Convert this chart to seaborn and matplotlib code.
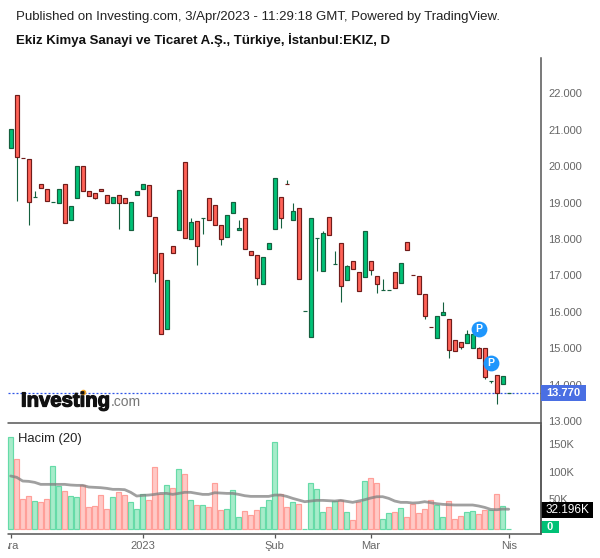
import pandas as pd
import matplotlib
matplotlib.use('Agg')
import matplotlib.pyplot as plt
import matplotlib.patheffects as pe
import seaborn as sns
from matplotlib.lines import Line2D
from matplotlib.patches import Rectangle
from matplotlib.transforms import Bbox, IdentityTransform

# candle bodies
body_top = [21.02, 21.95, 20.24, 20.19, 19.17, 19.50, 19.39, 19.03, 19.39, 19.50, 18.90, 20.00,
            20.00, 19.31, 19.28, 19.39, 19.20, 19.16, 19.20, 19.12, 19.01, 19.31, 19.50, 19.48,
            18.60, 17.62, 16.89, 17.81, 19.34, 20.11, 18.46, 18.51, 18.58, 19.12, 18.93, 18.38,
            18.66, 19.01, 18.30, 18.57, 17.66, 17.55, 17.51, 17.88, 19.67, 19.15, 19.51, 18.76,
            18.85, 16.02, 18.57, 18.04, 18.16, 18.60, 17.32, 17.88, 17.25, 17.41, 17.09, 18.21,
            17.39, 16.98, 16.59, 16.61, 17.09, 17.34, 17.92, 17.01, 16.98, 16.49, 15.58, 15.88,
            16.00, 15.80, 15.22, 15.17, 15.39, 15.39, 15.01, 15.01, 14.10, 14.28, 14.24, 13.77]
body_bottom = [20.50, 20.26, 20.24, 19.02, 19.17, 19.40, 19.05, 19.03, 18.99, 18.44, 18.52, 19.13,
               19.32, 19.18, 19.13, 19.32, 18.99, 18.99, 18.99, 18.99, 18.25, 19.21, 19.39, 18.63,
               17.07, 15.39, 15.53, 17.62, 18.25, 18.03, 18.00, 17.81, 18.58, 18.52, 18.39, 18.00,
               18.06, 18.72, 18.25, 17.73, 17.56, 16.93, 16.76, 17.73, 18.28, 18.58, 19.51, 18.52,
               16.90, 16.02, 15.31, 18.04, 17.12, 18.11, 17.32, 16.71, 16.87, 17.18, 16.57, 16.96,
               17.16, 16.77, 16.59, 16.61, 16.66, 16.80, 17.71, 17.01, 16.50, 15.88, 15.58, 15.28,
               15.92, 14.95, 14.93, 15.04, 15.15, 15.01, 14.73, 14.21, 14.10, 13.77, 14.02, 13.77]
# wicks, only where they stick out of the body: index -> price
wick_high = {4: 19.32, 30: 18.58, 38: 18.53, 46: 19.63, 47: 18.99, 52: 18.23, 54: 17.67,
             56: 17.30, 62: 16.91, 72: 16.28, 76: 15.49, 78: 15.04}
wick_low = {1: 19.04, 3: 18.40, 14: 19.09, 18: 18.27, 24: 16.81, 31: 17.30, 32: 18.13, 35: 17.83,
            41: 16.73, 45: 18.31, 51: 17.11, 55: 16.26, 60: 17.01, 61: 16.51, 69: 15.80,
            73: 14.72, 75: 14.99, 79: 14.15, 80: 14.05, 81: 13.47}
# G = green candle, R = red candle
direction = ['G', 'R', 'R', 'R', 'G', 'R', 'R', 'G', 'G', 'R', 'G', 'G',
             'R', 'R', 'R', 'R', 'R', 'G', 'R', 'R', 'G', 'G', 'G', 'R',
             'R', 'R', 'G', 'R', 'G', 'R', 'G', 'R', 'G', 'R', 'R', 'R',
             'G', 'G', 'G', 'R', 'R', 'R', 'G', 'G', 'G', 'R', 'R', 'G',
             'R', 'G', 'G', 'G', 'G', 'R', 'G', 'R', 'G', 'R', 'R', 'G',
             'R', 'R', 'G', 'G', 'R', 'G', 'R', 'R', 'R', 'R', 'R', 'G',
             'G', 'R', 'R', 'R', 'G', 'G', 'R', 'R', 'G', 'R', 'G', 'G']

volume = [167.5, 126.5, 54.2, 59.6, 50.6, 48.8, 54.2, 113.9, 77.7, 68.7, 59.6, 57.8,
          79.5, 39.8, 41.6, 61.4, 36.1, 57.8, 66.9, 61.4, 48.8, 36.1, 63.3, 52.4,
          112.0, 63.3, 79.5, 74.1, 108.4, 99.4, 52.4, 43.4, 43.4, 39.8, 83.1, 34.3,
          36.1, 70.5, 21.7, 32.5, 25.3, 34.3, 39.8, 52.4, 157.2, 63.3, 39.8, 48.8,
          45.2, 0, 83.1, 72.3, 30.7, 39.8, 50.6, 52.4, 30.7, 16.3, 48.8, 86.7,
          92.2, 83.1, 18.1, 28.9, 30.7, 38.0, 21.7, 45.2, 28.9, 36.1, 52.4, 43.4,
          21.7, 50.6, 18.1, 23.5, 30.7, 32.5, 27.1, 34.3, 34.3, 63.3, 41.6, 0]
volume_ma = [92.2, 89.8, 83.1, 82.5, 80.7, 77.1, 77.1, 77.1, 77.1, 77.1, 75.9, 75.3,
             75.3, 72.3, 71.7, 71.1, 69.9, 68.1, 68.1, 67.5, 62.7, 56.0, 57.2, 57.8,
             59.0, 60.8, 60.8, 59.0, 60.8, 62.7, 62.7, 60.8, 59.0, 59.0, 62.0, 61.4,
             60.8, 60.8, 59.0, 56.6, 55.4, 55.4, 55.4, 55.4, 57.8, 57.8, 55.4, 51.8,
             48.8, 45.8, 47.0, 48.2, 48.2, 47.6, 47.0, 48.2, 46.4, 44.6, 47.0, 49.4,
             52.4, 54.8, 54.8, 51.8, 47.0, 44.6, 44.6, 43.4, 44.0, 45.8, 44.0, 42.2,
             41.0, 40.4, 39.8, 39.8, 39.8, 39.8, 38.0, 35.5, 31.9, 31.3, 32.5, 32.2]

price_ticks = [13, 14, 15, 16, 17, 18, 19, 20, 21, 22]
volume_ticks = [50, 100, 150]
month_pos = [0, 22, 44, 60, 83]
month_labels = ['Ara', '2023', 'Şub', 'Mar', 'Nis']
pivot_x = [78, 80]
pivot_y = [15.52, 14.59]
last_price = 13.77

W, H = 600, 558
GREEN, RED = '#00c176', '#ff6257'
GREEN_EDGE, RED_EDGE = '#15603f', '#701c1a'
AXIS = '#555555'
LABEL = '#666666'

sns.set_theme(style='white')
plt.rcParams['font.family'] = ['Liberation Sans', 'DejaVu Sans']

df = pd.DataFrame({'i': range(84), 'top': body_top, 'bottom': body_bottom, 'dir': direction,
                   'vol': volume, 'ma': volume_ma})
df['high'] = [wick_high.get(i, t) for i, t in enumerate(body_top)]
df['low'] = [wick_low.get(i, b) for i, b in enumerate(body_bottom)]

fig = plt.figure(figsize=(W / 100, H / 100), dpi=100, facecolor='white')


def px_axes(x0, y0, x1, y1):
    return fig.add_axes([x0 / W, 1 - y1 / H, (x1 - x0) / W, (y1 - y0) / H], facecolor='none')


ax = px_axes(0, 58, 541, 423)
vax = px_axes(0, 425, 541, 533.7)
xlim = (-10.7 / 6, (541 - 10.7) / 6)

# candles
for colour, edge, code in [(GREEN, GREEN_EDGE, 'G'), (RED, RED_EDGE, 'R')]:
    part = df[df['dir'] == code]
    ax.vlines(part['i'], part['low'], part['high'], color=GREEN_EDGE, lw=0.8, zorder=2)
    ax.bar(part['i'], part['top'] - part['bottom'], bottom=part['bottom'], width=0.6,
           color=colour, edgecolor=edge, linewidth=0.85, zorder=3)
ax.set_xlim(xlim)
ax.set_ylim(22 - (423 - 93.5) / 36.4, 22 + (93.5 - 58) / 36.4)

ax.hlines(last_price, -0.45, xlim[1], color='#2f55e6', lw=0.9, linestyles=(0, (1.6, 1.6)), zorder=1)
ax.scatter(pivot_x, pivot_y, s=130, color='#1e96fc', linewidth=0, zorder=5)
for px, py in zip(pivot_x, pivot_y):
    ax.text(px, py, 'P', color='white', fontsize=7.5, fontweight='bold', ha='center', va='center', zorder=6)

ax.set_yticks(price_ticks)
ax.set_yticklabels([f'{v}.000' for v in price_ticks])
ax.set_xticks([])
ax.yaxis.tick_right()
ax.tick_params(axis='y', length=3, width=0.9, color=AXIS, labelcolor=LABEL, labelsize=8, pad=2.2)
sns.despine(ax=ax, left=True, top=True, bottom=True, right=False)
ax.spines['right'].set_color(AXIS)
ax.spines['right'].set_linewidth(1.1)

# volume pane, bars stand on a small floor under the zero level
FLOOR = -4.2
for colour, edge, code in [('#a6ecca', '#66dba8', 'G'), ('#ffc9c6', '#ff9f99', 'R')]:
    sns.barplot(data=df[df['dir'] == code], x='i', y='vol', native_scale=True, color=colour,
                saturation=1, edgecolor=edge, linewidth=0.85, width=0.85, bottom=FLOOR,
                errorbar=None, ax=vax, zorder=2)
sns.lineplot(data=df, x='i', y='ma', color='#808080', alpha=0.75, lw=2, ax=vax, zorder=3)
vax.set_xlim(xlim)
vax.set_ylim(-12, 184.3)
vax.set_xlabel('')
vax.set_ylabel('')
vax.set_yticks(volume_ticks)
vax.set_yticklabels([f'{v}K' for v in volume_ticks])
vax.yaxis.tick_right()
vax.set_xticks(month_pos)
vax.set_xticklabels(month_labels)
vax.tick_params(axis='y', length=3, width=0.9, color=AXIS, labelcolor=LABEL, labelsize=8, pad=2.2)
vax.tick_params(axis='x', length=3, width=0.9, color=AXIS, labelcolor=LABEL, labelsize=8, pad=2, bottom=True)
sns.despine(ax=vax, left=True, top=True, bottom=True, right=False)
vax.spines['right'].set_color(AXIS)
vax.spines['right'].set_linewidth(1.1)
first = vax.get_xticklabels()[0]
first.set_clip_on(True)
first.set_clip_box(Bbox([[8, 0], [W, H]]).transformed(IdentityTransform()))
fig.text(18 / W, 1 - 439 / H, 'Hacim (20)', fontsize=9.4, color='#222222', va='center')

# frame lines
fig.add_artist(Line2D([8 / W, 541 / W], [1 - 423.3 / H] * 2, color=AXIS, lw=1.1))
fig.add_artist(Line2D([8 / W, 541 / W], [1 - 533.7 / H] * 2, color=AXIS, lw=1.1))
fig.add_artist(Line2D([541 / W, 541 / W], [1 - 533.7 / H, 1 - 423 / H], color=AXIS, lw=1.1))


def tag(x0, y0, x1, y1, text, colour, bold=False, size=8):
    fig.add_artist(Rectangle((x0 / W, 1 - y1 / H), (x1 - x0) / W, (y1 - y0) / H, color=colour, lw=0))
    fig.text((x0 + x1) / 2 / W, 1 - ((y0 + y1) / 2 + 0.3) / H, text, color='white', fontsize=size,
             ha='center', va='center', fontweight='bold' if bold else 'normal')


tag(541, 385, 586, 401, '13.770', '#4a6fe3', True)
tag(541, 502, 593, 518, '32.196K', '#000000', size=8.5)
tag(541, 521, 559, 533, '0', GREEN, True)

# header
fig.text(16 / W, 1 - 17 / H, 'Published on Investing.com, 3/Apr/2023 - 11:29:18 GMT, Powered by TradingView.',
         fontsize=9.55, color='#222222', va='center')
fig.text(16 / W, 1 - 40 / H, 'Ekiz Kimya Sanayi ve Ticaret A.Ş., Türkiye, İstanbul:EKIZ, D',
         fontsize=9.5, color='#111111', fontweight='bold', va='center')

# logo
logo = fig.text(21 / W, 1 - 406.5 / H, 'Investing', fontsize=14.6, color='#111111', fontweight='bold', va='baseline')
logo.set_path_effects([pe.withStroke(linewidth=0.9, foreground='#111111')])
fig.text(111 / W, 1 - 406.5 / H, '.com', fontsize=10, color='#777777', va='baseline')
fig.add_artist(Line2D([83 / W], [1 - 391.8 / H], marker='o', ms=3, color='#f5a623', lw=0))

fig.savefig('out.png', dpi=100)
